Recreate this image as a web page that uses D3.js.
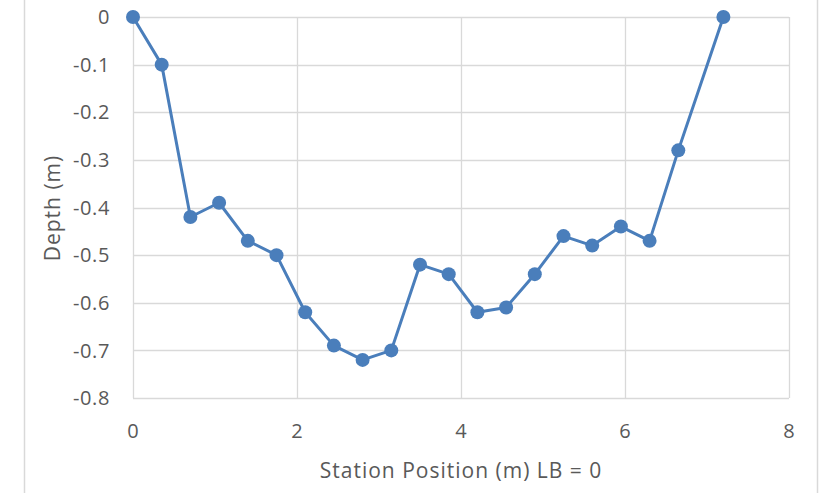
<!DOCTYPE html>
<html>
<head>
<meta charset="utf-8">
<script src="https://cdn.jsdelivr.net/npm/d3@7"></script>
<style>
  html, body { margin: 0; padding: 0; background: #fff; }
  svg { display: block; }
  text { font-family: "Open Sans", sans-serif; fill: #595959; }
</style>
</head>
<body>
<svg id="chart" width="829" height="493"></svg>
<script>
const stations = [0, 0.35, 0.7, 1.05, 1.4, 1.75, 2.1, 2.45, 2.8, 3.15, 3.5, 3.85, 4.2, 4.55, 4.9, 5.25, 5.6, 5.95, 6.3, 6.65, 7.2];
const depths = [0, -0.1, -0.42, -0.39, -0.47, -0.5, -0.62, -0.69, -0.72, -0.7, -0.52, -0.54, -0.62, -0.61, -0.54, -0.46, -0.48, -0.44, -0.47, -0.28, 0];
const xTicks = [0, 2, 4, 6, 8];
const yTicks = [0, -0.1, -0.2, -0.3, -0.4, -0.5, -0.6, -0.7, -0.8];
const xTitle = "Station Position (m) LB = 0";
const yTitle = "Depth (m)";

const svg = d3.select("#chart");
const W = 829, H = 493;
const x = d3.scaleLinear().domain([0, 8]).range([133, 789]);
const y = d3.scaleLinear().domain([-0.8, 0]).range([398, 17]);
const grid = "#d9d9d9";

// outer frame lines
svg.append("line").attr("x1", 24.5).attr("x2", 24.5).attr("y1", 0).attr("y2", H).attr("stroke", grid).attr("stroke-width", 1.5);
svg.append("line").attr("x1", 817.5).attr("x2", 817.5).attr("y1", 0).attr("y2", H).attr("stroke", grid).attr("stroke-width", 1.5);

// gridlines
svg.append("g").selectAll("line").data(yTicks).join("line")
  .attr("x1", x(0)).attr("x2", x(8))
  .attr("y1", d => Math.round(y(d)) + 0.5).attr("y2", d => Math.round(y(d)) + 0.5)
  .attr("stroke", grid).attr("stroke-width", 1.3);
svg.append("g").selectAll("line").data(xTicks).join("line")
  .attr("x1", d => Math.round(x(d)) + 0.5).attr("x2", d => Math.round(x(d)) + 0.5)
  .attr("y1", y(0)).attr("y2", y(-0.8))
  .attr("stroke", grid).attr("stroke-width", 1.3);

// tick labels
svg.append("g").selectAll("text").data(yTicks).join("text")
  .attr("x", 110).attr("y", d => y(d)).attr("dy", "0.36em")
  .attr("text-anchor", "end").attr("font-size", 20).attr("letter-spacing", 0.6)
  .text(d => String(+d.toFixed(1)));
svg.append("g").selectAll("text").data(xTicks).join("text")
  .attr("x", d => x(d)).attr("y", 431).attr("dy", "0.36em")
  .attr("text-anchor", "middle").attr("font-size", 20)
  .text(d => String(d));

// axis titles
svg.append("text").attr("x", 461).attr("y", 470).attr("dy", "0.36em")
  .attr("text-anchor", "middle").attr("font-size", 21).attr("letter-spacing", 1)
  .text(xTitle);
svg.append("text").attr("transform", "translate(52,208) rotate(-90)").attr("dy", "0.36em")
  .attr("text-anchor", "middle").attr("font-size", 21).attr("letter-spacing", 1)
  .text(yTitle);

// series
const data = stations.map((s, i) => ({ s, d: depths[i] }));
const color = "#4a7ebb";
svg.append("path").datum(data)
  .attr("fill", "none").attr("stroke", color).attr("stroke-width", 3).attr("stroke-linejoin", "round")
  .attr("d", d3.line().x(p => x(p.s)).y(p => y(p.d)));
svg.append("g").selectAll("circle").data(data).join("circle")
  .attr("cx", p => x(p.s)).attr("cy", p => y(p.d)).attr("r", 7)
  .attr("fill", color);
</script>
</body>
</html>
